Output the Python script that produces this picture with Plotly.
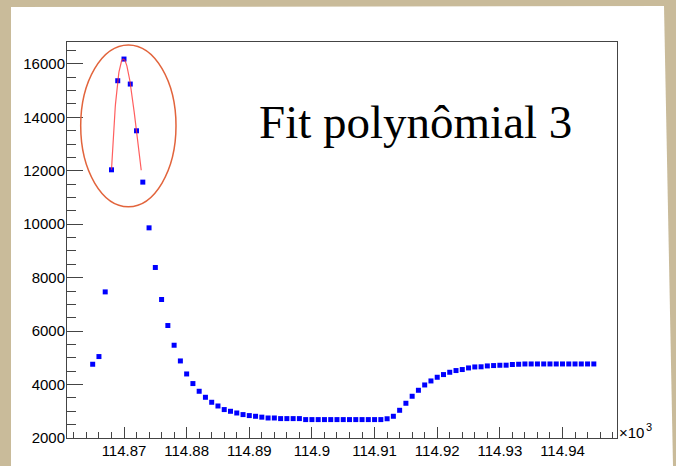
import numpy as np
import plotly.graph_objects as go

# ---------------- data ----------------
x_raw = [114865, 114866, 114867, 114868, 114869, 114870, 114871, 114872, 114873, 114874,
         114875, 114876, 114877, 114878, 114879, 114880, 114881, 114882, 114883, 114884,
         114885, 114886, 114887, 114888, 114889, 114890, 114891, 114892, 114893, 114894,
         114895, 114896, 114897, 114898, 114899, 114900, 114901, 114902, 114903, 114904,
         114905, 114906, 114907, 114908, 114909, 114910, 114911, 114912, 114913, 114914,
         114915, 114916, 114917, 114918, 114919, 114920, 114921, 114922, 114923, 114924,
         114925, 114926, 114927, 114928, 114929, 114930, 114931, 114932, 114933, 114934,
         114935, 114936, 114937, 114938, 114939, 114940, 114941, 114942, 114943, 114944,
         114945]
counts = [4760, 5048, 7468, 12037, 15370, 16182, 15246, 13497, 11576, 9865,
          8382, 7183, 6209, 5472, 4884, 4397, 4037, 3749, 3524, 3337,
          3198, 3064, 3000, 2936, 2876, 2839, 2813, 2780, 2749, 2749,
          2726, 2726, 2726, 2726, 2689, 2689, 2689, 2689, 2689, 2689,
          2689, 2689, 2689, 2689, 2689, 2689, 2689, 2720, 2813, 3037,
          3300, 3562, 3786, 3985, 4135, 4273, 4374, 4460, 4524, 4562,
          4622, 4659, 4665, 4697, 4711, 4722, 4725, 4750, 4760, 4771,
          4771, 4771, 4771, 4771, 4771, 4771, 4771, 4771, 4771, 4771,
          4771]

x_tick_vals = [114.87, 114.88, 114.89, 114.90, 114.91, 114.92, 114.93, 114.94]
x_tick_text = ["114.87", "114.88", "114.89", "114.9", "114.91", "114.92", "114.93", "114.94"]
y_tick_vals = [2000, 4000, 6000, 8000, 10000, 12000, 14000, 16000]
y_tick_text = ["2000", "4000", "6000", "8000", "10000", "12000", "14000", "16000"]

fit_degree = 3
fit_x_from = 114868
fit_x_to = 114873
fit_draw_to = 114872.75
title_text = "Fit polynômial 3"
exponent_base = "×10"
exponent_power = "3"

# ---------------- cubic fit of the peak ----------------
xa = np.array(x_raw, dtype=float)
ya = np.array(counts, dtype=float)
sel = (xa >= fit_x_from) & (xa <= fit_x_to)
x0c = 114870.0
coef = np.polyfit(xa[sel] - x0c, ya[sel], fit_degree)
xfit = np.linspace(fit_x_from, fit_draw_to, 120)
yfit = np.polyval(coef, xfit - x0c)

# ---------------- geometry helpers (pixel -> paper) ----------------
W, H = 676, 466
L, R, T, B = 67, 617, 42, 438
BEIGE = "#c9bb9a"


def px(x):
    return (x - L) / (R - L)


def py(y):
    return (B - y) / (B - T)


fig = go.Figure()
fig.add_trace(go.Scatter(
    x=xa / 1000.0, y=ya, mode="markers",
    marker=dict(symbol="square", size=5, color="#0000ff", line=dict(width=0)),
    hoverinfo="skip"))
fig.add_trace(go.Scatter(
    x=xfit / 1000.0, y=yfit, mode="lines",
    line=dict(color="rgba(255,40,40,0.75)", width=1.2),
    hoverinfo="skip"))

axis_font = dict(family="Liberation Sans, Arial, sans-serif", size=15, color="#000000")

fig.update_layout(
    width=W, height=H,
    margin=dict(l=L, r=W - R, t=T, b=H - B, pad=0, autoexpand=False),
    paper_bgcolor=BEIGE,
    plot_bgcolor="#ffffff",
    showlegend=False,
    xaxis=dict(
        range=[114.8609, 114.9487], automargin=False,
        tickmode="array", tickvals=x_tick_vals, ticktext=x_tick_text,
        ticks="inside", ticklen=11, tickwidth=1, tickcolor="#444444",
        showgrid=False, zeroline=False,
        showline=True, linecolor="#444444", linewidth=1, mirror=True,
        tickfont=axis_font, ticklabelstandoff=-1,
        minor=dict(ticks="inside", ticklen=6, tickwidth=1, tickcolor="#444444",
                   dtick=0.002, tick0=114.87, showgrid=False),
    ),
    yaxis=dict(
        range=[2000, 16820], automargin=False,
        tickmode="array", tickvals=y_tick_vals, ticktext=y_tick_text,
        ticks="inside", ticklen=16, tickwidth=1, tickcolor="#444444",
        showgrid=False, zeroline=False,
        showline=True, linecolor="#444444", linewidth=1, mirror=True,
        tickfont=axis_font, ticklabelstandoff=-2,
        minor=dict(ticks="inside", ticklen=9, tickwidth=1, tickcolor="#444444",
                   dtick=500, tick0=2000, showgrid=False),
    ),
)

# white page area on the beige background
page = [(11, 7), (664, 6), (673, 466), (11, 466)]
path = "M " + " L ".join(f"{px(a):.5f},{py(b):.5f}" for a, b in page) + " Z"
fig.add_shape(type="path", path=path, xref="paper", yref="paper",
              fillcolor="#ffffff", line=dict(width=0), layer="below")

# ellipse around the peak
fig.add_shape(type="circle", xref="paper", yref="paper",
              x0=px(80.7), x1=px(176), y0=py(206.7), y1=py(45),
              line=dict(color="#e2643c", width=1.5), layer="above")

fig.add_annotation(text=title_text, xref="paper", yref="paper",
                   x=px(415), y=py(121.5), xanchor="center", yanchor="middle",
                   showarrow=False,
                   font=dict(family="Liberation Serif, Times New Roman, serif", size=47, color="#000000"))

fig.add_annotation(text=exponent_base, xref="paper", yref="paper",
                   x=px(618), y=py(432), xanchor="left", yanchor="middle",
                   showarrow=False, borderpad=0,
                   font=dict(family="Liberation Sans, Arial, sans-serif", size=15, color="#000000"))
fig.add_annotation(text=exponent_power, xref="paper", yref="paper",
                   x=px(645), y=py(427), xanchor="left", yanchor="middle",
                   showarrow=False, borderpad=0,
                   font=dict(family="Liberation Sans, Arial, sans-serif", size=11, color="#000000"))

post = ("document.documentElement.style.margin='0';"
        "document.body.style.margin='0';"
        "document.body.style.overflow='hidden';"
        f"document.body.style.background='{BEIGE}';")
fig.write_html("out.html", post_script=post, config={"displayModeBar": False})
